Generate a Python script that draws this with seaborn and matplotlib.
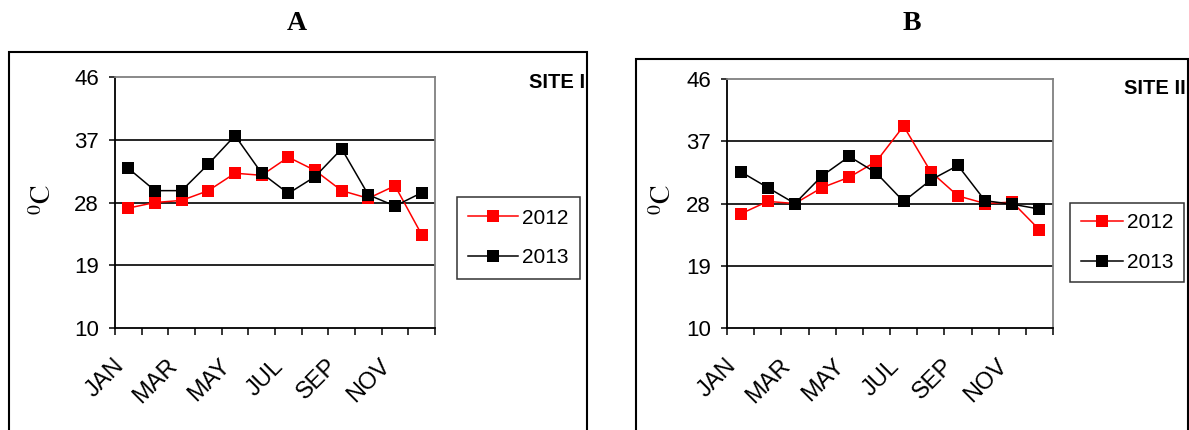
import pandas as pd
import seaborn as sns
import matplotlib
matplotlib.use("Agg")
from matplotlib import pyplot as plt
from matplotlib.patches import Rectangle
from matplotlib.transforms import ScaledTranslation

# Monthly temperature values
months = ["JAN", "FEB", "MAR", "APR", "MAY", "JUN",
          "JUL", "AUG", "SEP", "OCT", "NOV", "DEC"]
years = ["2012", "2013"]
site1_2012 = [27.2, 28.0, 28.3, 29.7, 32.2, 31.9, 34.5, 32.6, 29.7, 28.6, 30.4, 23.4]
site1_2013 = [32.9, 29.7, 29.7, 33.5, 37.6, 32.2, 29.3, 31.7, 35.7, 29.1, 27.5, 29.4]
site2_2012 = [26.5, 28.3, 28.0, 30.3, 31.8, 34.1, 39.2, 32.6, 29.1, 28.0, 28.2, 24.2]
site2_2013 = [32.6, 30.3, 28.0, 32.0, 34.8, 32.4, 28.3, 31.4, 33.5, 28.4, 27.9, 27.2]
y_ticks = [10, 19, 28, 37, 46]
panel_titles = ["A", "B"]
site_names = ["SITE I", "SITE II"]

W, H = 1189, 430
plt.rcParams["font.family"] = ["Liberation Sans", "DejaVu Sans"]
plt.rcParams["mathtext.fontset"] = "stix"

fig = plt.figure(figsize=(W / 100, H / 100), dpi=100)

def px(x0, y0, x1, y1):
    # pixel box (top-left origin) -> figure fraction rect
    return [x0 / W, 1 - y1 / H, (x1 - x0) / W, (y1 - y0) / H]

panels = [
    dict(ax=px(115, 77, 435, 328), box=(9, 52, 587), title_x=297,
         site_xy=(585, 82), leg=(518.5, 238), ylab=(44, 200),
         hl=2.4, bp=0.55, vals=(site1_2012, site1_2013)),
    dict(ax=px(727, 79, 1053, 328), box=(636, 59, 1187.5), title_x=912,
         site_xy=(1186, 88), leg=(1127, 242.5), ylab=(664, 200),
         hl=2.0, bp=0.5, vals=(site2_2012, site2_2013)),
]

for i, p in enumerate(panels):
    ax = fig.add_axes(p["ax"])
    df = pd.DataFrame({
        "mes": list(range(12)) * 2,
        "temp": list(p["vals"][0]) + list(p["vals"][1]),
        "rok": [years[0]] * 12 + [years[1]] * 12,
    })
    sns.lineplot(data=df, x="mes", y="temp", hue="rok", style="rok",
                 palette={"2012": "#ff0000", "2013": "black"},
                 markers={"2012": "s", "2013": "s"}, dashes=False,
                 markersize=9, markeredgewidth=0, linewidth=1.1,
                 legend=False, ax=ax, zorder=3)
    lines = ax.get_lines()[:2]

    for g in [19, 28, 37]:
        ax.axhline(g, color="black", lw=1.2, zorder=1)

    ax.set_xlim(-0.5, 11.5)
    ax.set_ylim(10, 46)
    ax.set_yticks(y_ticks)
    ax.set_xticks([k - 0.5 for k in range(13)])
    ax.set_xticklabels([])
    ax.set_xticks([0, 2, 4, 6, 8, 10], [months[k] for k in [0, 2, 4, 6, 8, 10]],
                  minor=True)
    ax.tick_params(axis="y", direction="out", length=4.5, width=1.1,
                   labelsize=16, pad=7)
    ax.tick_params(axis="x", which="major", direction="out", length=5, width=1.1)
    ax.tick_params(axis="x", which="minor", length=0, labelsize=17, pad=25)
    off = ScaledTranslation(-8 / 100, 0, fig.dpi_scale_trans)
    for lab in ax.get_xticklabels(minor=True):
        lab.set_rotation(45)
        lab.set_ha("right")
        lab.set_va("center")
        lab.set_rotation_mode("anchor")
        lab.set_transform(lab.get_transform() + off)

    ax.set_xlabel("")
    ax.set_ylabel("")
    for s in ["left", "bottom"]:
        ax.spines[s].set_color("black")
        ax.spines[s].set_linewidth(1.3)
    for s in ["top", "right"]:
        ax.spines[s].set_color("#808080")
        ax.spines[s].set_linewidth(1.3)

    leg = ax.legend(lines, years, loc="center",
                    bbox_to_anchor=(p["leg"][0] / W, 1 - p["leg"][1] / H),
                    bbox_transform=fig.transFigure, fontsize=15,
                    frameon=True, fancybox=False, edgecolor="black",
                    handlelength=p["hl"], handletextpad=0.2, labelspacing=1.0,
                    borderpad=p["bp"], borderaxespad=0)
    leg.get_frame().set_linewidth(1.1)

    # outer frame of each panel, open at the bottom
    x0, y0, x1 = p["box"]
    fig.add_artist(Rectangle((x0 / W, -0.05), (x1 - x0) / W, 1 - y0 / H + 0.05,
                             transform=fig.transFigure, fill=False,
                             edgecolor="black", lw=1.5))

    fig.text(p["title_x"] / W, 1 - 24 / H, panel_titles[i], ha="center",
             va="center", fontsize=20, fontweight="bold",
             family=["Liberation Serif", "DejaVu Serif"])
    fig.text(p["site_xy"][0] / W, 1 - p["site_xy"][1] / H, site_names[i],
             ha="right", va="center", fontsize=14.5, fontweight="bold")
    fig.text(p["ylab"][0] / W, 1 - p["ylab"][1] / H, r"$^{0}\mathrm{C}$",
             rotation=90, ha="center", va="center", fontsize=20)

fig.savefig("out.png", dpi=100)
